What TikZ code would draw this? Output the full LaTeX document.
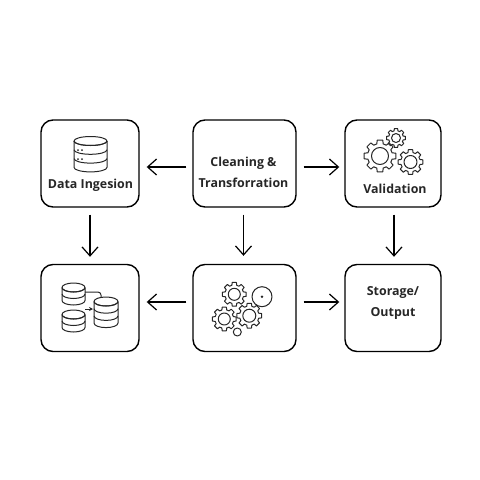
\documentclass[tikz,border=0pt]{standalone}
\usepackage{fontspec}
\setmainfont{Open Sans}
\usetikzlibrary{arrows.meta, calc}
\tikzstyle{stage} = [rectangle, rounded corners=12pt, minimum height=87pt, draw=black, line width=1.4pt]
\tikzstyle{tag} = [align=center, font=\bfseries\fontsize{12.4}{21}\selectfont, text=black!85, inner sep=0pt]
\tikzstyle{arrow} = [line width=1.2pt,-{Straight Barb[length=9pt,width=16pt,line width=1.2pt]}]
\tikzstyle{icon} = [line width=1pt, line join=round, black!85]
% gear: x, y, outer radius, inner radius
\newcommand{\gearicon}[4]{
  \pgfmathsetmacro{\rr}{#3*0.78}
  \draw[icon] ($(#1,#2)+(-10:#3)$) \foreach \a in {0,45,...,315} {
    -- ($(#1,#2)+(\a-10:#3)$) -- ($(#1,#2)+(\a+10:#3)$) -- ($(#1,#2)+(\a+15:\rr)$) -- ($(#1,#2)+(\a+30:\rr)$)
  } -- cycle;
  \draw[icon] (#1,#2) circle (#4);
}
% cylinder: centre x, top y, half width, band height, number of bands
\newcommand{\dbicon}[5]{
  \draw[icon] (#1,#2) ellipse (#3 and 4.5);
  \draw[icon] (#1-#3,#2) -- (#1-#3,#2+#4*#5) arc (180:0:#3 and 4.5) -- (#1+#3,#2);
  \foreach \b in {1,...,#5} {
    \draw[icon] (#1-#3,#2+\b*#4-#4) arc (180:0:#3 and 4.5);
  }
}
\begin{document}
\begin{tikzpicture}[x=1pt, y=-1pt, node distance=144.5pt]
  \useasboundingbox (0,0) rectangle (480,480);
  \node (ingest) [stage, minimum width=98pt] at (90,163.5) {};
  \node (clean) [stage, minimum width=103pt, right of=ingest, xshift=10pt] {};
  \node (valid) [stage, minimum width=96pt, right of=clean, xshift=4pt] {};
  \node (merge) [stage, minimum width=98pt, below of=ingest] {};
  \node (engine) [stage, minimum width=103pt, below of=clean] {};
  \node (store) [stage, minimum width=96pt, below of=valid] {};
  \node (ingestTag) [tag] at (90.5,185) {Data Ingesion};
  \node (cleanTag) [tag] at (243.5,172.5) {Cleaning \&\\Transforration};
  \node (validTag) [tag] at (395,188.5) {Validation};
  \node (storeTag) [tag] at (393,303) {Storage/\\Output};

  \draw [arrow, shorten <=6pt, shorten >=7pt] ([yshift=-3.5pt]clean.west) -- ([yshift=-3.5pt]ingest.east);
  \draw [arrow, shorten <=7pt, shorten >=5pt] ([yshift=-3.5pt]clean.east) -- ([yshift=-3.5pt]valid.west);
  \draw [arrow, shorten <=7pt, shorten >=7pt] (ingest.south) -- (merge.north);
  \draw [arrow, shorten <=7pt, shorten >=8pt] ([xshift=-1pt]clean.south) -- ([xshift=-1pt]engine.north);
  \draw [arrow, shorten <=7pt, shorten >=7pt] ([xshift=1pt]valid.south) -- ([xshift=1pt]store.north);
  \draw [arrow, shorten <=6pt, shorten >=7pt] ([yshift=6pt]engine.west) -- ([yshift=6pt]merge.east);
  \draw [arrow, shorten <=7pt, shorten >=5pt] ([yshift=6pt]engine.east) -- ([yshift=6pt]store.west);

  % database in the first box
  \dbicon{90.5}{141}{16.5}{8.8}{3}
  \foreach \y in {150,159} {
    \fill[black!85] (78,\y) circle (1pt) (82,\y) circle (1pt);
  }

  % gears in the validation box
  \gearicon{380}{156}{16}{8.5}
  \gearicon{396}{138}{9.5}{4.5}
  \gearicon{410.5}{162}{12.5}{6.5}

  % databases in the merge box
  \dbicon{73.5}{287.5}{11.5}{6.5}{2}
  \dbicon{73.5}{314.5}{11.5}{6.5}{2}
  \dbicon{106}{301.5}{12}{7.2}{3}
  \coordinate (mergeA) at (85,292);
  \coordinate (mergeB) at (101,297);
  \draw [icon, rounded corners=3pt] (mergeA) -| (mergeB);
  \draw [icon, -{Stealth[length=4pt,width=4pt]}] (85,309) -- (93,309);

  % gears in the engine box
  \gearicon{234.3}{294.3}{12}{6}
  \gearicon{249.3}{315.7}{12.5}{6.5}
  \gearicon{224.3}{319}{12}{6}
  \draw[icon] (262,296.7) circle (10);
  \fill[black!85] (262,296.7) circle (1.3pt);
  \draw[icon] (237.3,332) circle (4);
\end{tikzpicture}
\end{document}
